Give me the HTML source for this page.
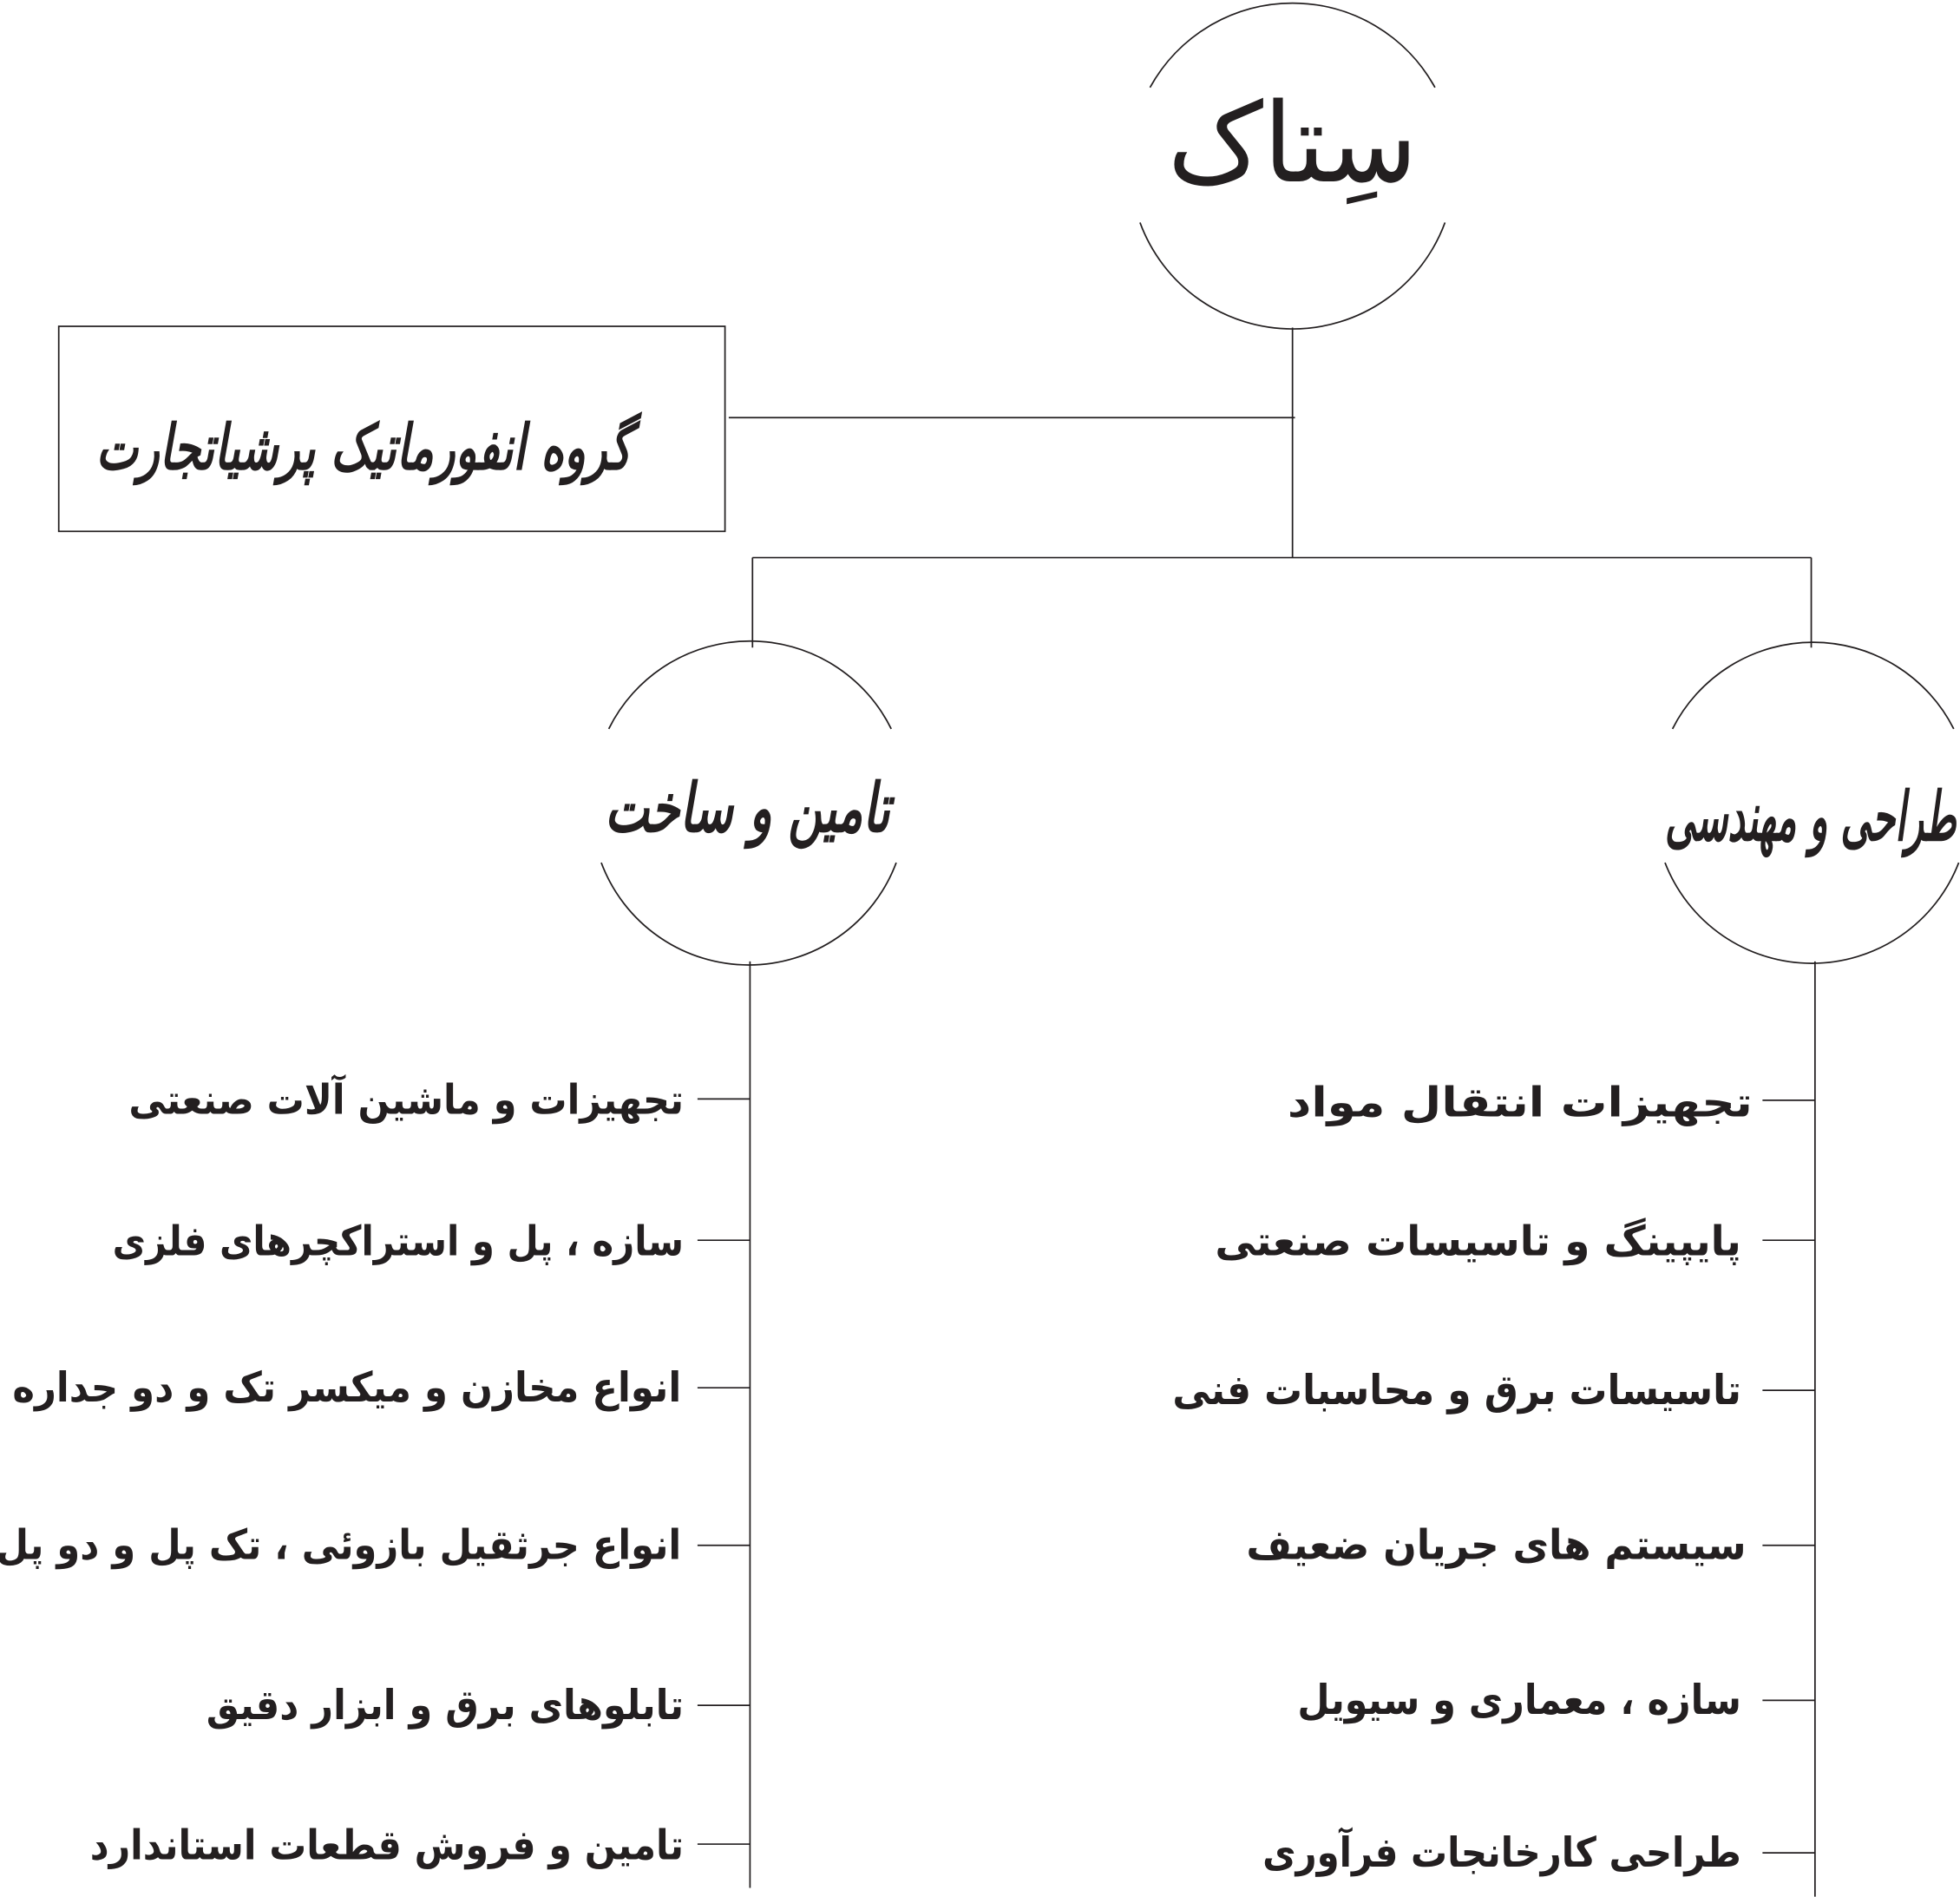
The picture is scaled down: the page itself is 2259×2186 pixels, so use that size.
<!DOCTYPE html>
<html><head><meta charset="utf-8"><style>
html,body{margin:0;padding:0;background:#fff;}
svg{display:block}
text{font-family:"DejaVu Sans","Liberation Sans",sans-serif;fill:#231f20}
</style></head><body>
<svg width="2259" height="2186" viewBox="0 0 1568 1517.3" preserveAspectRatio="none" xmlns="http://www.w3.org/2000/svg">
<g fill="none" stroke="#231f20" stroke-width="1.2">
<path d="M920,70 A130,130 0 0 1 1148,70"/>
<path d="M912,178 A130,130 0 0 0 1156,178"/>
<line x1="1034" y1="262" x2="1034" y2="446"/>
<line x1="583" y1="334" x2="1036" y2="334"/>
<rect x="47" y="261" width="533" height="164"/>
<line x1="602" y1="446" x2="1449" y2="446"/>
<line x1="602" y1="446" x2="602" y2="518"/>
<line x1="1449" y1="446" x2="1449" y2="518"/>
<path d="M487,583 A126,126 0 0 1 713,583"/>
<path d="M481,690 A126,126 0 0 0 717,690"/>
<path d="M1338,583 A126,126 0 0 1 1563,583"/>
<path d="M1332,690 A126,126 0 0 0 1567,690"/>
<line x1="600" y1="769" x2="600" y2="1510"/>
<line x1="1452" y1="769" x2="1452" y2="1517"/>
<line x1="558" y1="879" x2="600" y2="879"/>
<line x1="558" y1="992" x2="600" y2="992"/>
<line x1="558" y1="1110" x2="600" y2="1110"/>
<line x1="558" y1="1236" x2="600" y2="1236"/>
<line x1="558" y1="1364" x2="600" y2="1364"/>
<line x1="558" y1="1475" x2="600" y2="1475"/>
<line x1="1410" y1="880" x2="1452" y2="880"/>
<line x1="1410" y1="992" x2="1452" y2="992"/>
<line x1="1410" y1="1112" x2="1452" y2="1112"/>
<line x1="1410" y1="1236" x2="1452" y2="1236"/>
<line x1="1410" y1="1360" x2="1452" y2="1360"/>
<line x1="1410" y1="1482" x2="1452" y2="1482"/>
</g>
<text x="1134" y="145" font-size="88" text-anchor="end" textLength="200" lengthAdjust="spacingAndGlyphs">سِتاک</text>
<text x="505" y="375" font-size="50" font-weight="bold" font-style="italic" text-anchor="end" textLength="428" lengthAdjust="spacingAndGlyphs">گروه انفورماتیک پرشیاتجارت</text>
<text x="712" y="665" font-size="54" font-weight="bold" font-style="italic" text-anchor="end" textLength="228" lengthAdjust="spacingAndGlyphs">تامین و ساخت</text>
<text x="1565" y="672" font-size="54" font-weight="bold" font-style="italic" text-anchor="end" textLength="233" lengthAdjust="spacingAndGlyphs">طراحی و مهندسی</text>
<g font-size="33" font-weight="bold" text-anchor="end" lengthAdjust="spacingAndGlyphs">
<text x="547" y="891" textLength="444" lengthAdjust="spacingAndGlyphs">تجهیزات و ماشین آلات صنعتی</text>
<text x="547" y="1004" textLength="457" lengthAdjust="spacingAndGlyphs">سازه ، پل و استراکچرهای فلزی</text>
<text x="545" y="1121" textLength="535" lengthAdjust="spacingAndGlyphs">انواع مخازن و میکسر تک و دو جداره</text>
<text x="545" y="1247" textLength="548" lengthAdjust="spacingAndGlyphs">انواع جرثقیل بازوئی ، تک پل و دو پل</text>
<text x="547" y="1375" textLength="382" lengthAdjust="spacingAndGlyphs">تابلوهای برق و ابزار دقیق</text>
<text x="547" y="1487" textLength="475" lengthAdjust="spacingAndGlyphs">تامین و فروش قطعات استاندارد</text>
<text x="1402" y="893" textLength="372" lengthAdjust="spacingAndGlyphs">تجهیزات انتقال مواد</text>
<text x="1393" y="1004" textLength="421" lengthAdjust="spacingAndGlyphs">پایپینگ و تاسیسات صنعتی</text>
<text x="1393" y="1123" textLength="455" lengthAdjust="spacingAndGlyphs">تاسیسات برق و محاسبات فنی</text>
<text x="1397" y="1247" textLength="400" lengthAdjust="spacingAndGlyphs">سیستم های جریان ضعیف</text>
<text x="1393" y="1371" textLength="355" lengthAdjust="spacingAndGlyphs">سازه ، معماری و سیویل</text>
<text x="1393" y="1493" textLength="383" lengthAdjust="spacingAndGlyphs">طراحی کارخانجات فرآوری</text>
</g>
</svg>
</body></html>
